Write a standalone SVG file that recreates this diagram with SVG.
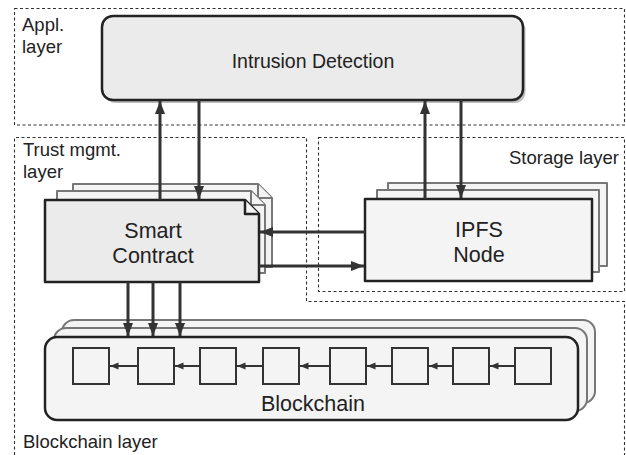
<svg xmlns="http://www.w3.org/2000/svg" width="626" height="455" viewBox="0 0 626 455">
<defs>
<style>
.layer{fill:none;stroke:#333;stroke-width:1.1;stroke-dasharray:3,2.5}
.lbl{font-family:"Liberation Sans",Arial,sans-serif;font-size:18.5px;fill:#222}
.big{font-family:"Liberation Sans",Arial,sans-serif;font-size:21.5px;fill:#222;text-anchor:middle}
.front{stroke:#222;stroke-width:2.5;stroke-linejoin:round}
.back{fill:#f4f4f4;stroke:#777;stroke-width:2;stroke-linejoin:round}
.arr{stroke:#333;stroke-width:3;fill:none}
.chain{stroke:#333;stroke-width:2;fill:none}
.blk{fill:#f4f4f4;stroke:#333;stroke-width:2}
</style>
<marker id="ah" markerUnits="userSpaceOnUse" markerWidth="14" markerHeight="12" refX="13" refY="6" orient="auto">
<path d="M0,1 L13,6 L0,11 Z" fill="#333"/>
</marker>
<marker id="sh" markerUnits="userSpaceOnUse" markerWidth="9" markerHeight="8" refX="8.5" refY="4" orient="auto">
<path d="M0,0.5 L8.5,4 L0,7.5 Z" fill="#333"/>
</marker>
</defs>
<rect width="626" height="455" fill="#fff"/>

<g id="layers">
<rect class="layer" x="14.5" y="8.5" width="610" height="116.5"/>
<path class="layer" d="M14.5,455 V137.5 H306.5 V301.5 H624.5 V455"/>
<rect class="layer" x="318.5" y="137.5" width="306" height="154"/>
<text class="lbl" x="22" y="31">Appl.</text>
<text class="lbl" x="22" y="53">layer</text>
<text class="lbl" x="23" y="156">Trust mgmt.</text>
<text class="lbl" x="23" y="178">layer</text>
<text class="lbl" x="619" y="164" text-anchor="end">Storage layer</text>
<text class="lbl" x="23" y="448">Blockchain layer</text>
</g>

<g id="intrusion-detection">
<rect x="104.5" y="19" width="421" height="84" rx="11" fill="#bdbdbd"/>
<rect class="front" x="102" y="16" width="421" height="84" rx="11" fill="#ebebeb"/>
<text x="313" y="68" font-family="'Liberation Sans',Arial,sans-serif" font-size="19.5" fill="#222" text-anchor="middle">Intrusion Detection</text>
</g>

<g id="smart-contract">
<path class="back" d="M73,184 H258 L272,198 V267 H73 Z"/>
<path class="back" d="M258,184 V198 H272"/>
<path class="back" d="M57,191 H251 L265,205 V273 H57 Z"/>
<path class="back" d="M251,191 V205 H265"/>
<path class="front" d="M45,200 H245 L259,214 V282 H45 Z" fill="#ebebeb"/>
<path class="front" d="M245,200 V214 H259" fill="#f4f4f4"/>
<text class="big" x="153" y="238">Smart</text>
<text class="big" x="153" y="263">Contract</text>
</g>

<g id="ipfs-node">
<rect class="back" x="388" y="183" width="219" height="83"/>
<rect class="back" x="377" y="190" width="222" height="82"/>
<rect class="front" x="365" y="199" width="227" height="82" fill="#f4f4f4"/>
<text class="big" x="479" y="237">IPFS</text>
<text class="big" x="479" y="262">Node</text>
</g>

<g id="blockchain">
<rect class="back" x="62" y="320" width="533" height="83" rx="12"/>
<rect class="back" x="54" y="328" width="533" height="83" rx="12"/>
<rect class="front" x="45" y="337" width="533" height="83" rx="12" fill="#f4f4f4"/>
<rect class="blk" x="73" y="348" width="36" height="36"/>
<rect class="blk" x="138" y="348" width="36" height="36"/>
<rect class="blk" x="200" y="348" width="36" height="36"/>
<rect class="blk" x="263" y="348" width="36" height="36"/>
<rect class="blk" x="330" y="348" width="36" height="36"/>
<rect class="blk" x="392" y="348" width="36" height="36"/>
<rect class="blk" x="453" y="348" width="36" height="36"/>
<rect class="blk" x="515" y="348" width="36" height="36"/>
<text class="big" x="313" y="411">Blockchain</text>
</g>

<g id="connectors">
<line class="arr" x1="160" y1="200" x2="160" y2="101" marker-end="url(#ah)"/>
<line class="arr" x1="199" y1="100" x2="199" y2="199" marker-end="url(#ah)"/>
<line class="arr" x1="425" y1="199" x2="425" y2="101" marker-end="url(#ah)"/>
<line class="arr" x1="461" y1="100" x2="461" y2="198" marker-end="url(#ah)"/>
<line class="arr" x1="365" y1="232" x2="260" y2="232" marker-end="url(#ah)"/>
<line class="arr" x1="259" y1="266" x2="364" y2="266" marker-end="url(#ah)"/>
<line class="arr" x1="128" y1="282" x2="128" y2="336" marker-end="url(#ah)"/>
<line class="arr" x1="153" y1="282" x2="153" y2="336" marker-end="url(#ah)"/>
<line class="arr" x1="180" y1="282" x2="180" y2="336" marker-end="url(#ah)"/>
<line class="chain" x1="138" y1="366" x2="110" y2="366" marker-end="url(#sh)"/>
<line class="chain" x1="200" y1="366" x2="175" y2="366" marker-end="url(#sh)"/>
<line class="chain" x1="263" y1="366" x2="237" y2="366" marker-end="url(#sh)"/>
<line class="chain" x1="330" y1="366" x2="300" y2="366" marker-end="url(#sh)"/>
<line class="chain" x1="392" y1="366" x2="367" y2="366" marker-end="url(#sh)"/>
<line class="chain" x1="453" y1="366" x2="429" y2="366" marker-end="url(#sh)"/>
<line class="chain" x1="515" y1="366" x2="490" y2="366" marker-end="url(#sh)"/>
</g>
</svg>
